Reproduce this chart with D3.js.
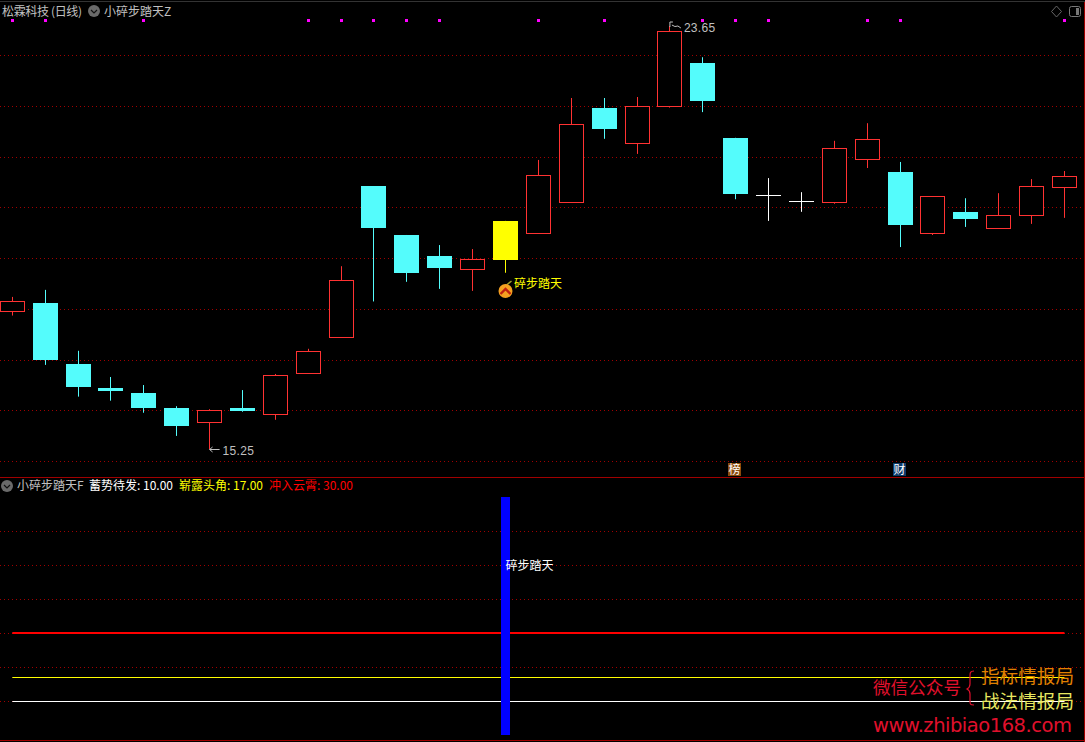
<!DOCTYPE html>
<html>
<head>
<meta charset="utf-8">
<script src="https://cdn.jsdelivr.net/npm/d3@7"></script>
<style>
    html, body { margin: 0; padding: 0; background: #000; overflow: hidden; }
    text { font-family: "Noto Sans CJK SC", "Liberation Sans", sans-serif; font-size: 12px; }
    .num { font-family: "Liberation Sans", sans-serif; }
</style>
</head>
<body>
<div id="chart"></div>
<script>
const opens  = [17.98,18.15,16.94,16.46,16.36,16.06,15.79,16.06,15.93,16.76,17.46,20.47,19.50,19.08,18.83,19.78,19.53,20.16,22.02,21.33,22.05,22.92,21.43,20.29,20.17,20.14,21.00,20.75,19.53,19.96,19.64,19.90,20.46];
const highs  = [18.27,18.41,17.20,16.68,16.52,16.10,16.04,16.42,16.74,17.24,18.88,20.47,19.50,19.30,19.22,19.78,20.99,22.22,22.22,22.24,23.65,23.03,21.43,20.63,20.35,21.37,21.72,20.95,20.27,20.23,20.33,20.61,20.77];
const lows   = [17.90,16.92,16.29,16.21,15.97,15.51,15.25,15.99,15.83,16.76,17.46,18.18,18.57,18.43,18.39,18.75,19.53,20.16,21.41,21.11,22.03,21.94,20.21,19.78,19.96,20.12,20.83,19.26,19.50,19.66,19.64,19.72,19.84];
const closes = [18.18,17.02,16.48,16.40,16.06,15.71,16.02,16.00,16.71,17.19,18.60,19.64,18.75,18.84,19.02,19.00,20.69,21.70,21.60,22.06,23.54,22.16,20.31,20.29,20.17,21.22,21.40,19.70,20.27,19.82,19.89,20.47,20.67];

// 上图信号点, 下标从0开始
const signalDays = [0,1,4,9,10,11,12,13,16,18,21,22,23,26,27,32];
const markDay = 15;
const priceGrid = [23.07,22.05,21.04,20.05,19.04,18.02,17.01,16.02,15.01];

// 副图
const indicatorGrid = [10,20,30,40,50,60];
const indicatorLines = [
    { label: "蓄势待发", value: 10, color: "#ffffff" },
    { label: "崭露头角", value: 17, color: "#ffff00" },
    { label: "冲入云霄", value: 30, color: "#ff0000" }
];
const barValue = 70;
const barLabelValue = 50;

const width = 1085;
const height = 742;

const svg = d3.select("#chart").append("svg")
    .attr("width", width)
    .attr("height", height)
    .style("display", "block");

svg.append("rect").attr("width", width).attr("height", height).attr("fill", "#000");

const x = d3.scalePoint().domain(d3.range(opens.length)).range([12.3, 1064.46]);
const y = d3.scaleLinear().domain([15.25, 23.65]).range([449, 26]);
const y2 = d3.scaleLinear().domain([0, 70]).range([735, 497]);

const snap = v => Math.round(v) + 0.5;

// 网格
svg.append("g").selectAll("line")
    .data(priceGrid)
    .enter().append("line")
    .attr("x1", 0).attr("x2", 1084)
    .attr("y1", d => snap(y(d) - 0.5)).attr("y2", d => snap(y(d) - 0.5))
    .attr("stroke", "#a00000")
    .attr("stroke-dasharray", "1,3");

svg.append("g").selectAll("line")
    .data(indicatorGrid)
    .enter().append("line")
    .attr("x1", 0).attr("x2", 1084)
    .attr("y1", d => snap(y2(d) - 0.5)).attr("y2", d => snap(y2(d) - 0.5))
    .attr("stroke", "#a00000")
    .attr("stroke-dasharray", "1,3");

// 边框
svg.append("line").attr("x1", 0).attr("x2", 1085).attr("y1", 1.5).attr("y2", 1.5).attr("stroke", "#333");
svg.append("line").attr("x1", 0).attr("x2", 1085).attr("y1", 477.5).attr("y2", 477.5).attr("stroke", "#a00000");
svg.append("line").attr("x1", 0).attr("x2", 1085).attr("y1", 740.5).attr("y2", 740.5).attr("stroke", "#a00000");
svg.append("line").attr("x1", 1084.5).attr("x2", 1084.5).attr("y1", 2).attr("y2", 742).attr("stroke", "#a00000");

// K线
const days = d3.range(opens.length);
const candleColor = i => {
    if (i === markDay) return "#ffff00";
    if (closes[i] === opens[i]) return "#ffffff";
    return closes[i] > opens[i] ? "#ff3232" : "#54fcfc";
};

const candles = svg.append("g").selectAll("g")
    .data(days)
    .enter().append("g");

candles.append("line")
    .attr("x1", i => Math.floor(x(i)) + 0.5)
    .attr("x2", i => Math.floor(x(i)) + 0.5)
    .attr("y1", i => y(highs[i]))
    .attr("y2", i => y(lows[i]))
    .attr("stroke", candleColor);

candles.filter(i => opens[i] !== closes[i]).append("rect")
    .attr("x", i => closes[i] > opens[i] ? Math.floor(x(i)) - 11.5 : Math.floor(x(i)) - 12)
    .attr("y", i => closes[i] > opens[i] ? snap(y(closes[i]) - 0.5) : Math.round(y(opens[i])))
    .attr("width", i => closes[i] > opens[i] ? 24 : 25)
    .attr("height", i => closes[i] > opens[i]
        ? Math.round(y(opens[i]) - y(closes[i]))
        : Math.round(y(closes[i]) - y(opens[i])))
    .attr("fill", i => closes[i] > opens[i] ? "#000" : candleColor(i))
    .attr("stroke", i => closes[i] > opens[i] ? candleColor(i) : "none");

candles.filter(i => opens[i] === closes[i]).append("line")
    .attr("x1", i => Math.floor(x(i)) - 12)
    .attr("x2", i => Math.floor(x(i)) + 13)
    .attr("y1", i => snap(y(opens[i]) - 0.5))
    .attr("y2", i => snap(y(opens[i]) - 0.5))
    .attr("stroke", candleColor);

// 信号点
svg.append("g").selectAll("rect")
    .data(signalDays)
    .enter().append("rect")
    .attr("x", d => Math.floor(x(d)) - 1)
    .attr("y", 19)
    .attr("width", 3)
    .attr("height", 3)
    .attr("fill", "#ff00ff");

// 最高最低价标注
const lowDay = d3.minIndex(lows);
const highDay = d3.maxIndex(highs);
svg.append("path")
    .attr("d", `M${x(lowDay) + 10},${y(lows[lowDay]) + 0.5}H${x(lowDay)}l3,-2.5M${x(lowDay)},${y(lows[lowDay]) + 0.5}l3,2.5`)
    .attr("fill", "none").attr("stroke", "#c0c0c0");
svg.append("text").attr("class", "num")
    .attr("x", x(lowDay) + 13).attr("y", y(lows[lowDay]) + 6)
    .attr("fill", "#c0c0c0").attr("letter-spacing", "0.3")
    .text(d3.format(".2f")(lows[lowDay]));
svg.append("path")
    .attr("d", `M${x(highDay)},${y(highs[highDay]) - 4}h3M${x(highDay)},${y(highs[highDay]) - 4}v5M${x(highDay) + 2},${y(highs[highDay]) - 1}l3,1.5l3,-0.5l3,2`)
    .attr("fill", "none").attr("stroke", "#c0c0c0");
svg.append("text").attr("class", "num")
    .attr("x", x(highDay) + 14).attr("y", y(highs[highDay]) + 6)
    .attr("fill", "#c0c0c0").attr("letter-spacing", "0.3")
    .text(d3.format(".2f")(highs[highDay]));

// 买点图标
const markX = x(markDay);
svg.append("line").attr("x1", markX + 1).attr("y1", 285).attr("x2", markX + 6).attr("y2", 281)
    .attr("stroke", "#a0a030").attr("stroke-width", 1.5);
svg.append("circle").attr("cx", markX).attr("cy", 291).attr("r", 7).attr("fill", "#f5a020");
svg.append("path").attr("d", `M${markX - 5},${294}L${markX},${289}L${markX + 5},${294}`)
    .attr("fill", "none").attr("stroke", "#c02010").attr("stroke-width", 2.4);
svg.append("text").attr("x", markX + 8.5).attr("y", 288).attr("fill", "#ffff00").text("碎步踏天");

// 标题
const menuIcon = (cx, cy) => {
    svg.append("circle").attr("cx", cx).attr("cy", cy).attr("r", 6).attr("fill", "#6a6a6a");
    svg.append("path").attr("d", `M${cx - 3},${cy - 1}l3,3l3,-3`).attr("fill", "none").attr("stroke", "#111").attr("stroke-width", 1.2);
};
svg.append("text").attr("x", 2).attr("y", 16).attr("fill", "#c0c0c0").attr("textLength", 80).text("松霖科技 (日线)");
menuIcon(94, 11);
svg.append("text").attr("x", 104).attr("y", 16).attr("fill", "#c0c0c0").text("小碎步踏天Z");

// 右上角按钮
svg.append("path").attr("d", "M1056.5,6l5,5.5l-5,5.5l-5,-5.5z").attr("fill", "none").attr("stroke", "#666");
svg.append("rect").attr("x", 1069.5).attr("y", 6.5).attr("width", 11).attr("height", 10).attr("rx", 2)
    .attr("fill", "none").attr("stroke", "#777");
svg.append("rect").attr("x", 1076).attr("y", 8).attr("width", 3).attr("height", 7).attr("fill", "#777");

// 榜 财 标记
[{ t: "榜", x: 728, c: "#8a4a0c" }, { t: "财", x: 893, c: "#0c3a6a" }].forEach(b => {
    svg.append("rect").attr("x", b.x).attr("y", 463).attr("width", 13).attr("height", 13).attr("fill", b.c);
    svg.append("text").attr("x", b.x + 0.5).attr("y", 474).attr("fill", "#fff").text(b.t);
});

// 副图标题
menuIcon(7, 486);
svg.append("text").attr("x", 17).attr("y", 490).attr("fill", "#c0c0c0").text("小碎步踏天F");
const legendX = [89, 179, 269];
indicatorLines.forEach((d, i) => {
    svg.append("text").attr("x", legendX[i]).attr("y", 490).attr("fill", d.color)
        .text(`${d.label}: ${d.value.toFixed(2)}`);
});

// 副图指标线
svg.append("g").selectAll("line")
    .data(indicatorLines)
    .enter().append("line")
    .attr("x1", x(0)).attr("x2", x(days.length - 1))
    .attr("y1", d => d.value === 30 ? Math.round(y2(d.value)) : snap(y2(d.value) - 0.5))
    .attr("y2", d => d.value === 30 ? Math.round(y2(d.value)) : snap(y2(d.value) - 0.5))
    .attr("stroke", d => d.color)
    .attr("stroke-width", d => d.value === 30 ? 2 : 1);

// 柱
svg.append("rect")
    .attr("x", Math.floor(x(markDay)) - 4)
    .attr("y", y2(barValue))
    .attr("width", 9)
    .attr("height", y2(0) - y2(barValue))
    .attr("fill", "#0000ff");
svg.append("text")
    .attr("x", x(markDay)).attr("y", y2(barLabelValue) + 5)
    .attr("fill", "#fff").text("碎步踏天");

// 水印
const wm = svg.append("g");
wm.append("text").attr("x", 873).attr("y", 694).attr("fill", "#e0102c").style("font-size", "17.6px").text("微信公众号");
wm.append("text").attr("x", 981).attr("y", 683).attr("fill", "#e08000").style("font-size", "18.6px").text("指标情报局");
wm.append("text").attr("x", 981).attr("y", 708).attr("fill", "#e8e860").style("font-size", "18.6px").text("战法情报局");
wm.append("text").attr("x", 873).attr("y", 732).attr("fill", "#e0102c")
    .style("font-size", "19.5px").style("font-family", "'DejaVu Sans'").attr("textLength", 199).text("www.zhibiao168.com");
wm.append("path")
    .attr("d", "M974,671c-4,0,-4,2,-4,5v8c0,3,-1,4,-3,5c2,1,3,2,3,5v7c0,3,0,4,4,4")
    .attr("fill", "none").attr("stroke", "#e0102c").attr("stroke-width", 1.2);
</script>
</body>
</html>
